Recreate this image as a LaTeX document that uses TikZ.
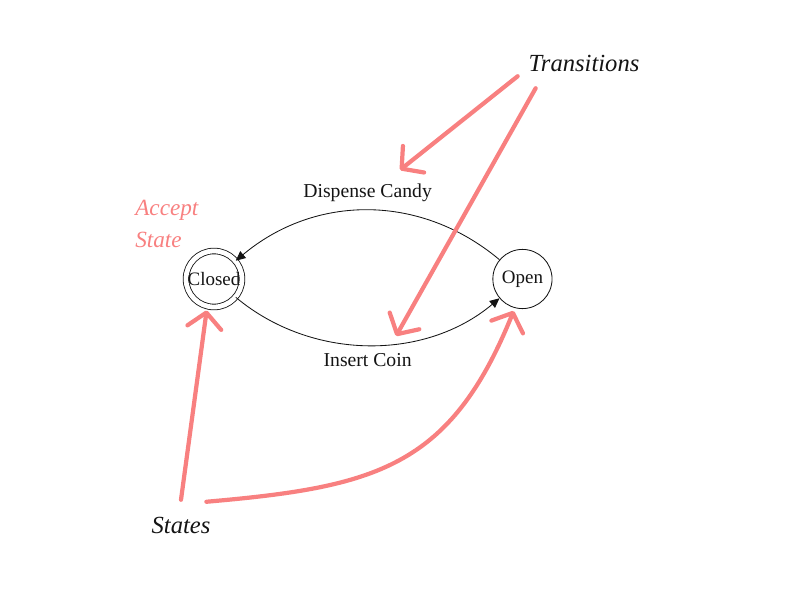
\documentclass[tikz,border=0pt]{standalone}
\usepackage{fontspec}
\setmainfont{Liberation Serif}
\usetikzlibrary{arrows.meta,positioning}
\definecolor{hdrclr}{RGB}{20,20,20}
\definecolor{noteclr}{RGB}{248,128,128}
\tikzset{
  %% FSM state circle
  stt/.style={circle,draw=hdrclr,line width=0.6pt,minimum size=1.48cm,inner sep=0pt,
    font=\fontsize{13.5}{16}\selectfont,text=hdrclr},
  %% accept state (double ring)
  acc/.style={stt,minimum size=1.4cm,double,double distance=3.4pt},
  %% transitions
  arr/.style={-{Triangle[length=2.4mm,width=2.2mm]},line width=0.6pt,color=hdrclr},
  lbl/.style={font=\fontsize{14}{16}\selectfont,text=hdrclr,inner sep=6pt},
  %% hand-drawn pointers
  parr/.style={-{Straight Barb[length=3.8mm,width=8.5mm,round]},
    line width=3pt,line cap=round,color=noteclr},
  ntxt/.style={font=\fontsize{17.5}{23}\selectfont\itshape,text=hdrclr},
}
\begin{document}
\begin{tikzpicture}[node distance=6.25cm]
  \useasboundingbox (0,0) rectangle (20,15);
  \node[acc] (closed) at (5.35,8.025) {Closed};
  \node[stt,right=of closed] (open) {Open};

  \draw[arr] (open) to[out=140,in=40] node[above,lbl]{Dispense Candy} (closed);
  \draw[arr] (closed) to[out=-40,in=-140,looseness=0.95] node[below,lbl]{Insert Coin} (open);

  %% notes
  \node[ntxt] (trans) at (14.6,13.425) {Transitions};
  \node[ntxt] (states) at (4.525,1.875) {States};
  \node[ntxt,text=noteclr,align=left,anchor=west,inner sep=0pt,
    font=\fontsize{16.5}{23}\selectfont\itshape] (accept) at (3.375,9.4) {Accept\\State};

  \coordinate (tipcandy) at (10.0,10.75);
  \coordinate (tipcoin) at (9.9,6.6);
  \draw[parr] ([shift={(-0.15,0)}]trans.south west) -- (tipcandy);
  \draw[parr] ([shift={(0.3,-0.3)}]trans.south west) -- (tipcoin);
  \draw[parr] ([yshift=0.3cm]states.north) -- ([yshift=-0.1cm]closed.-105);
  \draw[parr] ([shift={(-0.225,0.25)}]states.north east)
    to[out=5,in=-112,looseness=1.2] ([yshift=-0.08cm]open.-107);
\end{tikzpicture}
\end{document}
